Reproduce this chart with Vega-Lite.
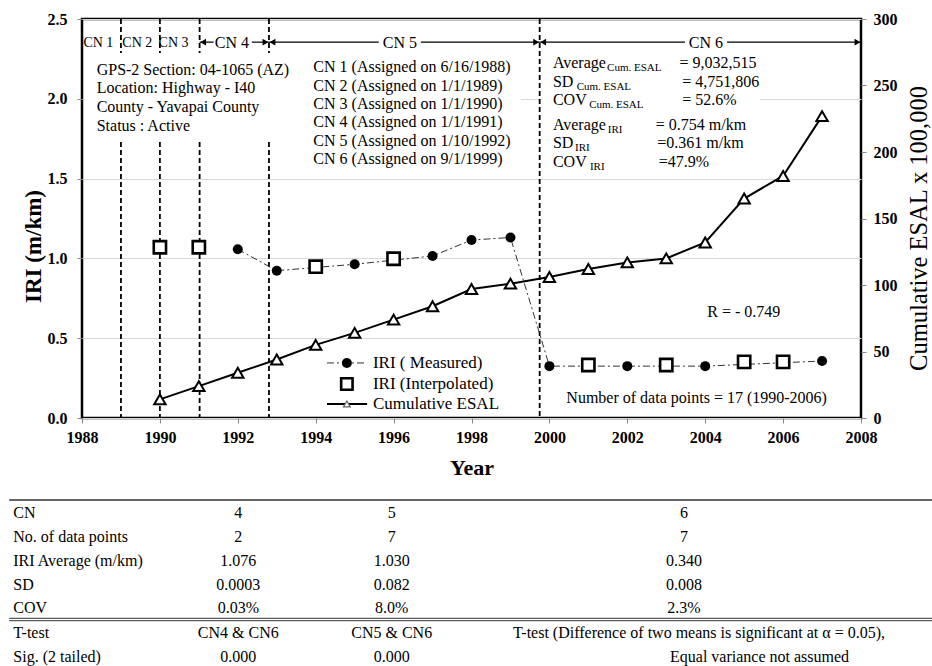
{
  "$schema": "https://vega.github.io/schema/vega-lite/v6.json",
  "width": 779,
  "height": 399,
  "autosize": {"type": "none"},
  "padding": {"left": 82, "top": 19, "right": 71, "bottom": 248},
  "background": "white",
  "config": {
    "view": {"stroke": "#000", "strokeWidth": 2.5},
    "font": "Liberation Serif",
    "text": {"font": "Liberation Serif", "fontSize": 16, "color": "#000"},
    "axis": {"labelFont": "Liberation Serif", "labelFontWeight": "bold", "labelFontSize": 16, "labelColor": "#000", "titleFont": "Liberation Serif", "titleColor": "#000", "tickColor": "#888", "tickSize": 5, "domain": false, "gridColor": "#d9d9d9", "labelFlush": false, "labelOverlap": false}
  },
  "datasets": {
    "measured": [
      {"year": 1992, "iri": 1.057}, {"year": 1993, "iri": 0.923}, {"year": 1995, "iri": 0.963},
      {"year": 1997, "iri": 1.015}, {"year": 1998, "iri": 1.115}, {"year": 1999, "iri": 1.131},
      {"year": 2000, "iri": 0.325}, {"year": 2002, "iri": 0.325}, {"year": 2004, "iri": 0.325},
      {"year": 2007, "iri": 0.357}
    ],
    "interp": [
      {"year": 1990, "iri": 1.07}, {"year": 1991, "iri": 1.07}, {"year": 1994, "iri": 0.948},
      {"year": 1996, "iri": 0.998}, {"year": 2001, "iri": 0.332}, {"year": 2003, "iri": 0.332},
      {"year": 2005, "iri": 0.352}, {"year": 2006, "iri": 0.352}
    ],
    "esal": [
      {"year": 1990, "esal": 14}, {"year": 1991, "esal": 24}, {"year": 1992, "esal": 34},
      {"year": 1993, "esal": 44}, {"year": 1994, "esal": 55}, {"year": 1995, "esal": 64},
      {"year": 1996, "esal": 74}, {"year": 1997, "esal": 84}, {"year": 1998, "esal": 97},
      {"year": 1999, "esal": 101}, {"year": 2000, "esal": 106}, {"year": 2001, "esal": 112},
      {"year": 2002, "esal": 117}, {"year": 2003, "esal": 120}, {"year": 2004, "esal": 132},
      {"year": 2005, "esal": 165}, {"year": 2006, "esal": 182}, {"year": 2007, "esal": 227}
    ],
    "boxes": [
      {"year": 1988.08, "year2": 1999.27, "iri": 2.25, "iri2": 1.75},
      {"year": 1999.8, "year2": 2005.4, "iri": 2.25, "iri2": 1.75}
    ],
    "cnlines": [
      {"year": 1989.0, "iri": 2.5, "iri2": 2.287}, {"year": 1989.0, "iri": 1.73, "iri2": 0},
      {"year": 1990.0, "iri": 2.5, "iri2": 2.287}, {"year": 1990.0, "iri": 1.73, "iri2": 0},
      {"year": 1991.02, "iri": 2.5, "iri2": 2.287}, {"year": 1991.02, "iri": 1.73, "iri2": 0},
      {"year": 1992.8, "iri": 2.5, "iri2": 2.287}, {"year": 1992.8, "iri": 1.73, "iri2": 0},
      {"year": 1999.75, "iri": 2.5, "iri2": 0}
    ],
    "arrows": [
      {"year": 1991.02, "year2": 1991.38, "iri": 2.355}, {"year": 1992.36, "year2": 1992.8, "iri": 2.355},
      {"year": 1992.8, "year2": 1995.62, "iri": 2.355}, {"year": 1996.7, "year2": 1999.75, "iri": 2.355},
      {"year": 1999.75, "year2": 2003.48, "iri": 2.355}, {"year": 2004.56, "year2": 2008, "iri": 2.355}
    ],
    "heads": [
      {"year": 1991.11, "iri": 2.355, "dir": "left"}, {"year": 1992.89, "iri": 2.355, "dir": "left"},
      {"year": 1999.84, "iri": 2.355, "dir": "left"}, {"year": 1992.71, "iri": 2.355, "dir": "right"},
      {"year": 1999.66, "iri": 2.355, "dir": "right"}, {"year": 2007.91, "iri": 2.355, "dir": "right"}
    ],
    "notes": [
      {"year": 1988.377, "iri": 2.18, "text": "GPS-2 Section: 04-1065 (AZ)"},
      {"year": 1988.377, "iri": 2.066, "text": "Location: Highway - I40"},
      {"year": 1988.377, "iri": 1.947, "text": "County - Yavapai County"},
      {"year": 1988.377, "iri": 1.831, "text": "Status : Active"},
      {"year": 1993.94, "iri": 2.201, "text": "CN 1 (Assigned on 6/16/1988)"},
      {"year": 1993.94, "iri": 2.08, "text": "CN 2 (Assigned on 1/1/1989)"},
      {"year": 1993.94, "iri": 1.966, "text": "CN 3 (Assigned on 1/1/1990)"},
      {"year": 1993.94, "iri": 1.853, "text": "CN 4 (Assigned on 1/1/1991)"},
      {"year": 1993.94, "iri": 1.736, "text": "CN 5 (Assigned on 1/10/1992)"},
      {"year": 1993.94, "iri": 1.621, "text": "CN 6 (Assigned on 9/1/1999)"},
      {"year": 2000.09, "iri": 2.222, "text": "Average"},
      {"year": 2000.09, "iri": 2.107, "text": "SD"},
      {"year": 2000.09, "iri": 1.992, "text": "COV"},
      {"year": 2000.09, "iri": 1.836, "text": "Average"},
      {"year": 2000.09, "iri": 1.721, "text": "SD"},
      {"year": 2000.09, "iri": 1.602, "text": "COV"},
      {"year": 2003.34, "iri": 2.222, "text": "= 9,032,515"},
      {"year": 2003.41, "iri": 2.107, "text": "= 4,751,806"},
      {"year": 2003.41, "iri": 1.992, "text": "= 52.6%"},
      {"year": 2002.73, "iri": 1.836, "text": "= 0.754 m/km"},
      {"year": 2002.77, "iri": 1.721, "text": "=0.361 m/km"},
      {"year": 2002.81, "iri": 1.602, "text": "=47.9%"}
    ],
    "legtext": [
      {"year": 1995.47, "iri": 0.345, "text": "IRI ( Measured)"},
      {"year": 1995.47, "iri": 0.213, "text": "IRI (Interpolated)"},
      {"year": 1995.47, "iri": 0.088, "text": "Cumulative ESAL"}
    ],
    "subs": [
      {"year": 2001.48, "iri": 2.19, "text": "Cum. ESAL"},
      {"year": 2000.7, "iri": 2.075, "text": "Cum. ESAL"},
      {"year": 2001.02, "iri": 1.96, "text": "Cum. ESAL"},
      {"year": 2001.5, "iri": 1.804, "text": "IRI"},
      {"year": 2000.66, "iri": 1.689, "text": "IRI"},
      {"year": 2001.04, "iri": 1.57, "text": "IRI"}
    ],
    "cnsmall": [
      {"year": 1988.42, "iri": 2.352, "text": "CN 1"},
      {"year": 1989.42, "iri": 2.352, "text": "CN 2"},
      {"year": 1990.35, "iri": 2.352, "text": "CN 3"}
    ],
    "centered": [
      {"year": 1991.85, "iri": 2.352, "text": "CN 4"},
      {"year": 1996.16, "iri": 2.352, "text": "CN 5"},
      {"year": 2004.02, "iri": 2.352, "text": "CN 6"},
      {"year": 2004.99, "iri": 0.666, "text": "R = - 0.749"},
      {"year": 2003.78, "iri": 0.123, "text": "Number of data points = 17 (1990-2006)"}
    ],
    "legline": [
      {"year": 1994.29, "year2": 1995.32, "iri": 0.345}
    ],
    "legline2": [
      {"year": 1994.29, "year2": 1995.32, "iri": 0.088}
    ],
    "legcircle": [{"year": 1994.8, "iri": 0.345}],
    "legsquare": [{"year": 1994.8, "iri": 0.213}],
    "legtri": [{"year": 1994.8, "iri": 0.088}],
    "tablelabels": [
      {"year": 1986.236, "iri": -0.594, "text": "CN"},
      {"year": 1986.236, "iri": -0.744, "text": "No. of data points"},
      {"year": 1986.236, "iri": -0.894, "text": "IRI Average (m/km)"},
      {"year": 1986.236, "iri": -1.046, "text": "SD"},
      {"year": 1986.236, "iri": -1.192, "text": "COV"},
      {"year": 1986.236, "iri": -1.345, "text": "T-test"},
      {"year": 1986.236, "iri": -1.496, "text": "Sig. (2 tailed)"},
      {"year": 1999.066, "iri": -1.345, "text": "T-test (Difference of two means is significant at α = 0.05),"},
      {"year": 2003.097, "iri": -1.496, "text": "Equal variance not assumed"}
    ],
    "tablevalues": [
      {"year": 1992.013, "iri": -0.594, "text": "4"},
      {"year": 1995.951, "iri": -0.594, "text": "5"},
      {"year": 2003.456, "iri": -0.594, "text": "6"},
      {"year": 1992.013, "iri": -0.744, "text": "2"},
      {"year": 1995.951, "iri": -0.744, "text": "7"},
      {"year": 2003.456, "iri": -0.744, "text": "7"},
      {"year": 1992.013, "iri": -0.894, "text": "1.076"},
      {"year": 1995.951, "iri": -0.894, "text": "1.030"},
      {"year": 2003.456, "iri": -0.894, "text": "0.340"},
      {"year": 1992.013, "iri": -1.046, "text": "0.0003"},
      {"year": 1995.951, "iri": -1.046, "text": "0.082"},
      {"year": 2003.456, "iri": -1.046, "text": "0.008"},
      {"year": 1992.013, "iri": -1.192, "text": "0.03%"},
      {"year": 1995.951, "iri": -1.192, "text": "8.0%"},
      {"year": 2003.456, "iri": -1.192, "text": "2.3%"},
      {"year": 1992.013, "iri": -1.345, "text": "CN4 & CN6"},
      {"year": 1995.951, "iri": -1.345, "text": "CN5 & CN6"},
      {"year": 1992.013, "iri": -1.496, "text": "0.000"},
      {"year": 1995.951, "iri": -1.496, "text": "0.000"}
    ],
    "tablethick": [
      {"year": 1986.13, "year2": 2010, "iri": -0.514}
    ],
    "tablethin": [
      {"year": 1986.13, "year2": 2010, "iri": -1.255},
      {"year": 1986.13, "year2": 2010, "iri": -1.27}
    ]
  },
  "encoding": {
    "x": {
      "field": "year", "type": "quantitative",
      "scale": {"domain": [1988, 2008], "nice": false, "zero": false},
      "axis": {"title": "Year", "titleFontSize": 22, "titleFontWeight": "bold", "values": [1988, 1990, 1992, 1994, 1996, 1998, 2000, 2002, 2004, 2006, 2008], "format": "d", "grid": false, "labelPadding": 6, "titlePadding": 12}
    }
  },
  "layer": [
    {
      "encoding": {
        "y": {
          "field": "iri", "type": "quantitative",
          "scale": {"domain": [0, 2.5], "nice": false, "zero": false},
          "axis": {"title": "IRI (m/km)", "titleFontSize": 23, "titleFontWeight": "bold", "values": [0, 0.5, 1, 1.5, 2, 2.5], "format": ".1f", "grid": true, "labelPadding": 10, "titlePadding": 2, "titleY": 227}
        }
      },
      "layer": [
        {"data": {"name": "boxes"}, "mark": {"type": "rect", "fill": "white"}, "encoding": {"x2": {"field": "year2"}, "y2": {"field": "iri2"}}},
        {"data": {"name": "cnlines"}, "mark": {"type": "rule", "color": "#000", "strokeWidth": 1.8, "strokeDash": [5, 3]}, "encoding": {"y2": {"field": "iri2"}}},
        {"data": {"name": "arrows"}, "mark": {"type": "rule", "color": "#000", "strokeWidth": 1.2}, "encoding": {"x2": {"field": "year2"}}},
        {"data": {"name": "heads"}, "mark": {"type": "point", "filled": true, "color": "#000", "size": 45, "opacity": 1}, "encoding": {"shape": {"field": "dir", "type": "nominal", "scale": {"domain": ["left", "right"], "range": ["triangle-left", "triangle-right"]}, "legend": null}}},
        {"data": {"name": "measured"}, "mark": {"type": "line", "color": "#333", "strokeWidth": 1, "strokeDash": [7, 3, 2, 3]}, "encoding": {}},
        {"data": {"name": "measured"}, "mark": {"type": "point", "shape": "circle", "filled": true, "color": "#000", "size": 100, "opacity": 1}, "encoding": {}},
        {"data": {"name": "interp"}, "mark": {"type": "point", "shape": "square", "filled": false, "fill": "white", "stroke": "#000", "strokeWidth": 2.6, "size": 150, "opacity": 1}, "encoding": {}},
        {"data": {"name": "legline"}, "mark": {"type": "rule", "color": "#333", "strokeWidth": 1, "strokeDash": [7, 3, 2, 3]}, "encoding": {"x2": {"field": "year2"}}},
        {"data": {"name": "legline2"}, "mark": {"type": "rule", "color": "#000", "strokeWidth": 2}, "encoding": {"x2": {"field": "year2"}}},
        {"data": {"name": "legcircle"}, "mark": {"type": "point", "shape": "circle", "filled": true, "color": "#000", "size": 100, "opacity": 1}, "encoding": {}},
        {"data": {"name": "legsquare"}, "mark": {"type": "point", "shape": "square", "filled": false, "fill": "white", "stroke": "#000", "strokeWidth": 2.6, "size": 130, "opacity": 1}, "encoding": {}},
        {"data": {"name": "legtri"}, "mark": {"type": "point", "shape": "triangle-up", "filled": false, "fill": "white", "stroke": "#666", "strokeWidth": 1.2, "size": 45, "opacity": 1}, "encoding": {}},
        {"data": {"name": "notes"}, "mark": {"type": "text", "align": "left", "baseline": "middle", "fontSize": 16}, "encoding": {"text": {"field": "text", "type": "nominal"}}},
        {"data": {"name": "legtext"}, "mark": {"type": "text", "align": "left", "baseline": "middle", "fontSize": 17}, "encoding": {"text": {"field": "text", "type": "nominal"}}},
        {"data": {"name": "subs"}, "mark": {"type": "text", "align": "left", "baseline": "middle", "fontSize": 11}, "encoding": {"text": {"field": "text", "type": "nominal"}}},
        {"data": {"name": "cnsmall"}, "mark": {"type": "text", "align": "center", "baseline": "middle", "fontSize": 14}, "encoding": {"text": {"field": "text", "type": "nominal"}}},
        {"data": {"name": "centered"}, "mark": {"type": "text", "align": "center", "baseline": "middle", "fontSize": 16}, "encoding": {"text": {"field": "text", "type": "nominal"}}},
        {"data": {"name": "tablelabels"}, "mark": {"type": "text", "align": "left", "baseline": "middle", "fontSize": 16}, "encoding": {"text": {"field": "text", "type": "nominal"}}},
        {"data": {"name": "tablevalues"}, "mark": {"type": "text", "align": "center", "baseline": "middle", "fontSize": 16}, "encoding": {"text": {"field": "text", "type": "nominal"}}},
        {"data": {"name": "tablethick"}, "mark": {"type": "rule", "color": "#333", "strokeWidth": 1.6}, "encoding": {"x2": {"field": "year2"}}},
        {"data": {"name": "tablethin"}, "mark": {"type": "rule", "color": "#333", "strokeWidth": 1}, "encoding": {"x2": {"field": "year2"}}}
      ]
    },
    {
      "data": {"name": "esal"},
      "encoding": {
        "y": {
          "field": "esal", "type": "quantitative",
          "scale": {"domain": [0, 300], "nice": false},
          "axis": {"orient": "right", "title": "Cumulative ESAL x 100,000", "titleFontSize": 24.5, "titleFontWeight": "normal", "values": [0, 50, 100, 150, 200, 250, 300], "grid": false, "labelPadding": 7, "titlePadding": 10, "titleAngle": -90, "titleBaseline": "top", "titleY": 209}
        }
      },
      "layer": [
        {"mark": {"type": "line", "color": "#000", "strokeWidth": 2}, "encoding": {}},
        {"mark": {"type": "point", "shape": "triangle-up", "filled": false, "fill": "white", "stroke": "#000", "strokeWidth": 2, "size": 130, "opacity": 1}, "encoding": {}}
      ]
    }
  ],
  "resolve": {"scale": {"y": "independent"}}
}
